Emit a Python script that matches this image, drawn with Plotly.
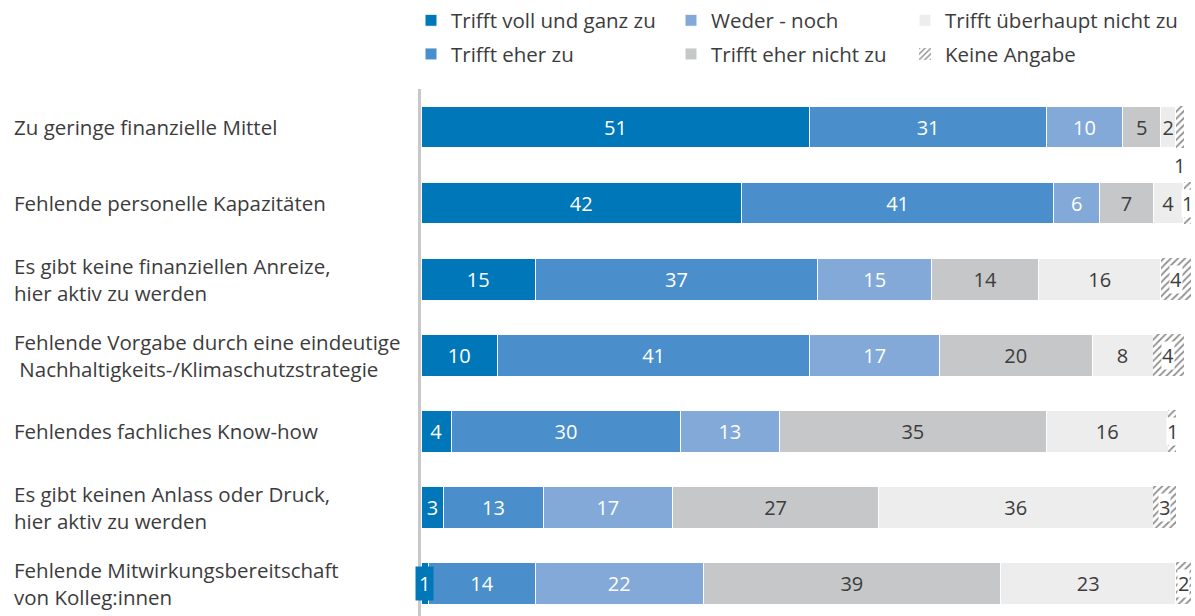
import plotly.graph_objects as go

# Barriers to sustainability / climate-protection engagement (shares in %)
categories = [
    "Zu geringe finanzielle Mittel",
    "Fehlende personelle Kapazitäten",
    "Es gibt keine finanziellen Anreize,<br>hier aktiv zu werden",
    "Fehlende Vorgabe durch eine eindeutige<br>\u00a0Nachhaltigkeits-/Klimaschutzstrategie",
    "Fehlendes fachliches Know-how",
    "Es gibt keinen Anlass oder Druck,<br>hier aktiv zu werden",
    "Fehlende Mitwirkungsbereitschaft<br>von Kolleg:innen",
]
series_names = [
    "Trifft voll und ganz zu",
    "Trifft eher zu",
    "Weder - noch",
    "Trifft eher nicht zu",
    "Trifft überhaupt nicht zu",
    "Keine Angabe",
]
voll = [51, 42, 15, 10, 4, 3, 1]
eher = [31, 41, 37, 41, 30, 13, 14]
weder = [10, 6, 15, 17, 13, 17, 22]
eher_nicht = [5, 7, 14, 20, 35, 27, 39]
ueberhaupt = [2, 4, 16, 8, 16, 36, 23]
keine = [1, 1, 4, 4, 1, 3, 2]

colors = ["#0077b8", "#4a8fcb", "#82a9d8", "#c6c7c8", "#ecedec", "#ffffff"]
text_colors = ["#ffffff", "#ffffff", "#ffffff", "#3c3c3c", "#3c3c3c", "#3c3c3c"]
# legend columns: two entries per column
legend_ids = ["legend", "legend", "legend2", "legend2", "legend3", "legend3"]
all_series = [voll, eher, weder, eher_nicht, ueberhaupt, keine]

FONT = "Open Sans"
LABEL_SIZE = 20.5
VALUE_SIZE = 20
LEGEND_SIZE = 20.5
PLOT_W = 1195 - 421
ypos = list(range(len(categories)))

fig = go.Figure()
for i, (name, vals) in enumerate(zip(series_names, all_series)):
    if name == "Keine Angabe":
        texts = [""] * len(vals)
        marker = dict(color="#ffffff",
                      pattern=dict(shape="/", fgcolor="#222222", bgcolor="#ffffff",
                                   size=5, solidity=0.35),
                      line=dict(color="#ffffff", width=0))
    else:
        # the one-percent segment of the last row gets its own boxed label
        texts = [str(v) if not (i == 0 and v == 1) else "" for v in vals]
        marker = dict(color=colors[i], line=dict(color="#ffffff", width=1))
    fig.add_trace(go.Bar(
        x=vals, y=ypos, orientation="h", name=name, marker=marker,
        text=texts, textposition="inside", insidetextanchor="middle",
        textfont=dict(family=FONT, size=VALUE_SIZE, color=text_colors[i]),
        legend=legend_ids[i], legendgroup=name, hoverinfo="skip",
    ))

annotations = []
# labels of the "Keine Angabe" segments, on a white box over the hatching
for r in ypos:
    start = voll[r] + eher[r] + weder[r] + eher_nicht[r] + ueberhaupt[r]
    cx = start + keine[r] / 2
    ty = r if r != 0 else r + 0.51
    annotations.append(dict(
        x=cx, y=ty, xref="x", yref="y", text=str(keine[r]), showarrow=False,
        font=dict(family=FONT, size=VALUE_SIZE, color="#3c3c3c"),
        bgcolor="#ffffff" if r != 0 else "rgba(0,0,0,0)", borderpad=0,
    ))
# boxed label for the 1 % segment in the last row
for r in ypos:
    if voll[r] == 1:
        annotations.append(dict(
            x=voll[r] / 2, y=r, xref="x", yref="y", text=str(voll[r]),
            showarrow=False, font=dict(family=FONT, size=VALUE_SIZE, color="#ffffff"),
            bgcolor=colors[0], borderpad=3,
        ))

# category labels, left aligned at the page edge
for r, cat in enumerate(categories):
    annotations.append(dict(
        x=-(421 - 12) / PLOT_W, y=r, xref="paper", yref="y", text=cat,
        showarrow=False, xanchor="left", align="left",
        font=dict(family=FONT, size=LABEL_SIZE, color="#3c3c3c"),
    ))

legend_common = dict(
    orientation="v", xanchor="left", yanchor="top", y=1.168,
    font=dict(family=FONT, size=LEGEND_SIZE, color="#3c3c3c"),
    bgcolor="rgba(0,0,0,0)", itemclick=False, itemdoubleclick=False,
    traceorder="grouped", tracegroupgap=4,
)

fig.update_layout(
    width=1195, height=616,
    margin=dict(l=421, r=0, t=89, b=0, pad=0),
    barmode="stack", bargap=0.45,
    paper_bgcolor="#ffffff", plot_bgcolor="#ffffff",
    font=dict(family=FONT, size=VALUE_SIZE, color="#3c3c3c"),
    uniformtext=dict(mode="show", minsize=VALUE_SIZE),
    showlegend=True,
    legend=dict(x=(411 - 421) / PLOT_W, **legend_common),
    legend2=dict(x=(671 - 421) / PLOT_W, **legend_common),
    legend3=dict(x=(905 - 421) / PLOT_W, **legend_common),
    xaxis=dict(range=[0, 101.5], visible=False, fixedrange=True),
    yaxis=dict(range=[6.43, -0.5], showline=True, linecolor="#c8c8c8", linewidth=3,
               showticklabels=False, showgrid=False, zeroline=False, ticks="",
               fixedrange=True),
    annotations=annotations,
)

fig.write_html("out.html")
